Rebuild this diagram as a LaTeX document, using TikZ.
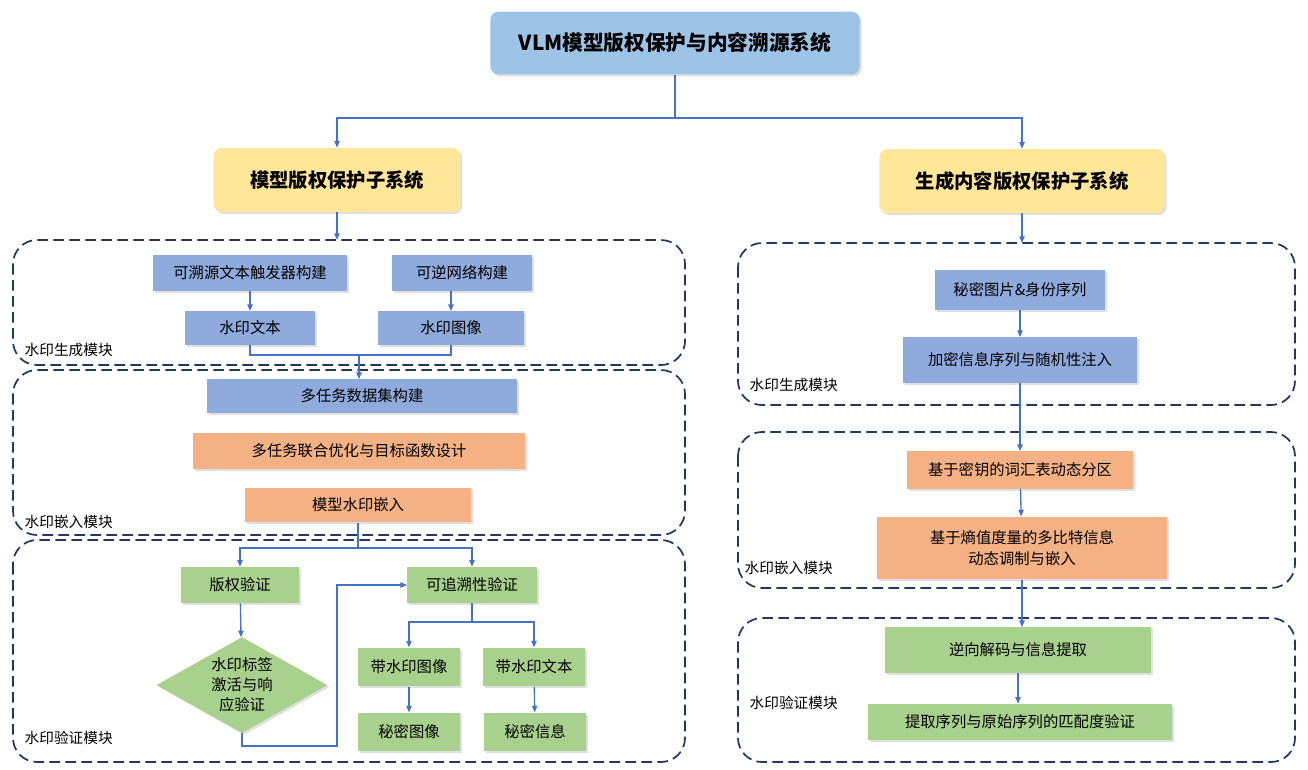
\documentclass[tikz,border=0pt]{standalone}
\usepackage{fontspec}
\setmainfont{Noto Sans CJK SC}
\usetikzlibrary{shapes.geometric,arrows.meta,shadows}
\definecolor{tblue}{HTML}{9DC3E6}
\definecolor{ylw}{HTML}{FFE699}
\definecolor{nblue}{HTML}{8FAADC}
\definecolor{org}{HTML}{F4B183}
\definecolor{grn}{HTML}{A9D18E}
\definecolor{ln}{HTML}{4472C4}
\definecolor{dsh}{HTML}{203864}
\begin{document}
\begin{tikzpicture}[x=0.75pt,y=-0.75pt,
  box/.style={draw=none,minimum height=27pt,font=\fontsize{11.5}{14}\selectfont,inner sep=2pt,drop shadow={shadow xshift=1.5pt,shadow yshift=-1.5pt,opacity=0.25}},
  bl/.style={box,fill=nblue},
  og/.style={box,fill=org},
  gr/.style={box,fill=grn},
  mod/.style={draw=dsh,line width=1.3pt,dash pattern=on 8pt off 4pt,rounded corners=18pt},
  lab/.style={anchor=west,font=\fontsize{11}{13}\selectfont},
  ar/.style={draw=ln,line width=1pt,-{Triangle[length=5pt,width=4pt]}},
  ln/.style={draw=ln,line width=1pt}]
\useasboundingbox (0,0) rectangle (1308,769);
% module boxes
\draw[mod] (13,240) rectangle (685,365);
\draw[mod] (13,370) rectangle (685,535);
\draw[mod] (13,540) rectangle (685,762);
\draw[mod] (738,243) rectangle (1295,405);
\draw[mod] (738,432) rectangle (1295,588);
\draw[mod] (738,618) rectangle (1295,762);
\node[lab] (l1) at (20,350) {水印生成模块};
\node[lab] (l2) at (20,522) {水印嵌入模块};
\node[lab] (l3) at (20,738) {水印验证模块};
\node[lab] (r1) at (745,385) {水印生成模块};
\node[lab] (r2) at (740,568) {水印嵌入模块};
\node[lab] (r3) at (745,703) {水印验证模块};
% title
\node[box,fill=tblue,rounded corners=6pt,minimum width=277pt,minimum height=47pt,font=\fontsize{15.5}{18}\selectfont\bfseries] (T) at (675,43) {VLM模型版权保护与内容溯源系统};
\node[box,fill=ylw,rounded corners=6pt,minimum width=185pt,minimum height=48pt,font=\fontsize{14.5}{17}\selectfont\bfseries] (A) at (337,180) {模型版权保护子系统};
\node[box,fill=ylw,rounded corners=6pt,minimum width=214pt,minimum height=48pt,font=\fontsize{14.5}{17}\selectfont\bfseries] (B) at (1022,181) {生成内容版权保护子系统};
\coordinate (j0) at (675,118);
\draw[ln] (T.south) -- (j0);
\draw[ar] (j0) -| (A.north);
\draw[ar] (j0) -| (B.north);
\coordinate (Ad) at (337,240);
\coordinate (Bd) at (1022,243);
\draw[ar] (A.south) -- (Ad);
\draw[ar] (B.south) -- (Bd);
% left gen
\node[bl,minimum width=146pt] (a1) at (250,273) {可溯源文本触发器构建};
\node[bl,minimum width=105pt] (a2) at (462,273) {可逆网络构建};
\node[bl,minimum width=97pt,minimum height=25pt] (a3) at (250,328) {水印文本};
\node[bl,minimum width=110pt,minimum height=25pt] (a4) at (451,328) {水印图像};
\draw[ar] (a1) -- (a3);
\draw[ar] (a2.south -| a4) -- (a4);
\node[bl,minimum width=232pt,minimum height=25pt] (b1) at (362,396) {多任务数据集构建};
\coordinate (j1) at (359,355);
\draw[ln] (a3.south) |- (j1);
\draw[ln] (a4.south) |- (j1);
\draw[ar] (j1) -- (j1 |- b1.north);
\node[og,minimum width=249pt] (b2) at (359,451) {多任务联合优化与目标函数设计};
\node[og,minimum width=170pt,minimum height=26pt] (b3) at (358,505) {模型水印嵌入};
% verify
\node[gr,minimum width=88pt] (c1) at (240,585) {版权验证};
\node[gr,minimum width=97pt] (c2) at (472,585) {可追溯性验证};
\coordinate (j2) at (358,548);
\draw[ln] (b3.south) -- (j2);
\draw[ar] (j2) -| (c1.north);
\draw[ar] (j2) -| (c2.north);
\node[diamond,fill=grn,aspect=1.8,inner sep=0pt,minimum width=128pt,minimum height=72pt,align=center,font=\fontsize{11.5}{15}\selectfont,drop shadow={shadow xshift=1.5pt,shadow yshift=-1.5pt,opacity=0.25}] (d) at (242,685) {水印标签\\激活与响\\应验证};
\draw[ar] (c1) -- (d);
\coordinate (e1) at (242,746);
\coordinate (e2) at (337,746);
\draw[ar] (d.south) -- (e1) -- (e2) |- (c2.west);
\node[gr,minimum width=77pt,minimum height=29pt] (c3) at (409,667) {带水印图像};
\node[gr,minimum width=77pt,minimum height=29pt] (c4) at (534,667) {带水印文本};
\node[gr,minimum width=77pt,minimum height=29pt] (c5) at (409,732) {秘密图像};
\node[gr,minimum width=76pt,minimum height=29pt] (c6) at (535,732) {秘密信息};
\coordinate (j3) at (472,622);
\draw[ln] (c2.south) -- (j3);
\draw[ar] (j3) -| (c3.north);
\draw[ar] (j3) -| (c4.north);
\draw[ar] (c3) -- (c5);
\draw[ar] (c4) -- (c6);
% right
\node[bl,minimum width=127pt,minimum height=30pt] (r1n) at (1020,290) {秘密图片\&身份序列};
\node[bl,minimum width=176pt,minimum height=34pt] (r2n) at (1020,360) {加密信息序列与随机性注入};
\node[og,minimum width=170pt,minimum height=28pt] (r3n) at (1020,470) {基于密钥的词汇表动态分区};
\node[og,minimum width=218pt,minimum height=47pt,align=center,font=\fontsize{11.5}{16}\selectfont] (r4n) at (1022,548) {基于熵值度量的多比特信息\\动态调制与嵌入};
\node[gr,minimum width=199pt,minimum height=34pt] (r5n) at (1018,650) {逆向解码与信息提取};
\node[gr,minimum width=228pt,minimum height=27pt] (r6n) at (1020,722) {提取序列与原始序列的匹配度验证};
\draw[ar] (r1n) -- (r2n);
\draw[ar] (r2n) -- (r3n);
\draw[ar] (r3n) -- (r4n);
\draw[ar] (r4n.south) -- (r4n.south |- r5n.north);
\draw[ar] (r5n) -- (r5n.south |- r6n.north);
\end{tikzpicture}
\end{document}
